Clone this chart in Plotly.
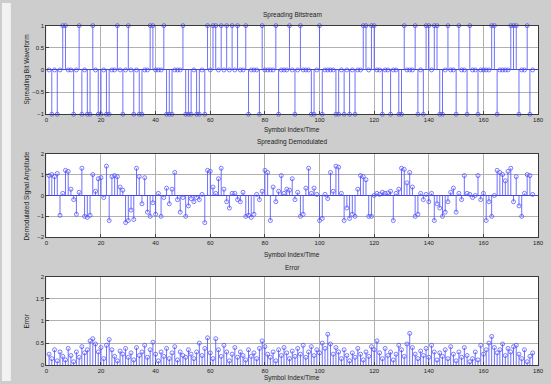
import plotly.graph_objects as go

# ---------------- data ----------------
sample_index = list(range(1, 179))

spread_bits = [
    0, -1, 0, -1, 0, 1, 1, 0, 0, -1,
    0, 1, -1, 0, -1, -1, 1, 0, -1, -1,
    0, -1, -1, 0, 0, 1, 0, -1, 0, 1,
    0, -1, 0, -1, -1, 0, 0, 1, 1, 0,
    0, 0, 1, -1, -1, -1, 0, 0, 0, 1,
    -1, -1, -1, 0, -1, -1, 0, -1, 1, 0,
    1, 1, 0, 1, 0, 1, 0, 1, 0, 1,
    0, 0, 1, -1, 0, 0, 0, -1, 1, 0,
    0, 0, 0, 1, -1, 0, 0, 0, 1, 0,
    -1, 0, 1, 0, 0, 0, -1, -1, 0, 1,
    -1, 0, 0, 0, 0, -1, -1, 0, -1, 0,
    -1, 0, -1, 0, 0, 1, 1, 0, 1, 1,
    0, 0, -1, 0, 0, -1, 0, 0, -1, -1,
    1, 0, 0, 0, 1, -1, 0, -1, 1, 1,
    0, 1, 1, -1, -1, 0, 1, 0, 0, -1,
    1, 0, 0, -1, 1, 0, 0, -1, 0, 0,
    0, 0, 1, 1, -1, 0, 0, 0, 0, 1,
    1, 1, -1, 0, 0, 1, -1, 0,
]

demodulated = [
    0.95, 1.00, 0.90, 1.05, -0.95, 0.10, 1.20, 1.15, 0.30, -0.20,
    -0.90, 0.15, 1.30, -1.00, -1.05, -0.95, 1.00, 0.20, 0.80, 0.85,
    -0.10, 1.40, -1.20, 0.90, 0.95, 0.90, 0.40, 0.25, -1.30, -1.20,
    -0.70, -1.15, 1.30, 0.90, -0.40, 0.85, -0.80, -1.00, -0.35, -0.90,
    0.10, -1.00, -0.10, 0.35, -0.40, 0.30, 1.10, -0.20, -0.80, -0.10,
    -1.00, -0.50, -0.15, -0.30, -0.10, -0.20, 0.05, -1.30, 1.20, 1.15,
    0.40, 0.10, 0.80, 1.30, 0.30, -0.30, -0.60, 0.10, 0.10, -0.20,
    -0.30, 0.15, -1.00, -0.95, -1.05, -0.90, 0.05, -0.20, 0.20, 1.20,
    1.10, -1.20, 0.40, -0.30, 0.20, 0.95, 0.10, 0.30, 0.25, 0.80,
    -0.20, 0.15, -1.00, -0.90, 0.35, 1.30, 0.10, 0.35, 0.05, -1.20,
    -1.10, 0.05, -0.15, 1.10, 0.20, 1.40, 1.35, 0.10, -1.20, -0.60,
    -1.10, -0.90, -1.00, 0.30, 0.95, 0.90, 0.75, -1.00, -1.00, 0.00,
    0.10, 0.05, 0.15, 0.10, 0.12, 0.20, -1.20, 0.10, 0.30, 1.30,
    1.25, 0.60, 1.10, 0.40, -1.00, -0.90, 0.10, -0.20, 0.05, -0.30,
    0.10, -1.20, -0.40, -0.60, -1.00, -0.80, -0.30, 0.15, 0.35, -0.80,
    0.10, -0.20, 0.95, 0.10, 0.05, -0.10, 0.00, 0.95, -0.20, 0.10,
    -1.20, -0.30, -1.00, 0.00, 1.20, 1.10, 1.00, 0.70, 1.15, 1.30,
    -0.30, 0.90, -0.50, -1.00, 0.10, 1.00, 0.95, 0.05,
]

error_mag = [
    0.25, 0.15, 0.35, 0.10, 0.30, 0.20, 0.12, 0.38, 0.22, 0.08,
    0.30, 0.18, 0.42, 0.28, 0.35, 0.55, 0.60, 0.48, 0.30, 0.40,
    0.15, 0.45, 0.58, 0.35, 0.20, 0.10, 0.32, 0.25, 0.38, 0.18,
    0.28, 0.12, 0.40, 0.22, 0.30, 0.45, 0.18, 0.35, 0.52, 0.25,
    0.10, 0.30, 0.20, 0.38, 0.15, 0.28, 0.42, 0.12, 0.30, 0.22,
    0.18, 0.35, 0.25, 0.15, 0.30, 0.50, 0.22, 0.38, 0.62, 0.28,
    0.15, 0.60, 0.35, 0.20, 0.45, 0.30, 0.10, 0.25, 0.40, 0.18,
    0.30, 0.22, 0.12, 0.35, 0.20, 0.28, 0.15, 0.38, 0.55, 0.42,
    0.25, 0.18, 0.30, 0.10, 0.35, 0.22, 0.40, 0.28, 0.15, 0.32,
    0.20, 0.38, 0.25, 0.45, 0.18, 0.30, 0.42, 0.22, 0.35, 0.28,
    0.50, 0.38, 0.70, 0.48, 0.25, 0.40, 0.30, 0.15, 0.35, 0.22,
    0.10, 0.28, 0.18, 0.38, 0.25, 0.12, 0.30, 0.20, 0.42, 0.35,
    0.55, 0.28, 0.15, 0.38, 0.22, 0.30, 0.12, 0.25, 0.45, 0.35,
    0.20, 0.48, 0.72, 0.40, 0.25, 0.15, 0.32, 0.22, 0.38, 0.18,
    0.45, 0.30, 0.12, 0.28, 0.20, 0.35, 0.15, 0.42, 0.25, 0.10,
    0.30, 0.18, 0.40, 0.22, 0.08, 0.15, 0.30, 0.12, 0.45, 0.25,
    0.35, 0.50, 0.65, 0.40, 0.28, 0.35, 0.48, 0.22, 0.38, 0.30,
    0.42, 0.45, 0.25, 0.15, 0.35, 0.08, 0.20, 0.28,
]

x_ticks = [0, 20, 40, 60, 80, 100, 120, 140, 160, 180]
y1_ticks = [-1, -0.5, 0, 0.5, 1]
y2_ticks = [-2, -1, 0, 1, 2]
y3_ticks = [0, 0.5, 1, 1.5, 2]

# ---------------- styling ----------------
W, H = 551, 384
STEM = "rgba(70,70,255,0.78)"
GRID = "#b0b0b0"
FONT = "Liberation Sans"


def px_x(p):
    return p / W


def px_y(p):
    return 1 - p / H


def stem_traces(xs, ys, xa, ya):
    lx, ly = [], []
    for x, y in zip(xs, ys):
        lx += [x, x, None]
        ly += [0, y, None]
    lines = go.Scatter(x=lx, y=ly, mode="lines", xaxis=xa, yaxis=ya,
                       line=dict(color=STEM, width=1), hoverinfo="skip",
                       showlegend=False)
    marks = go.Scatter(x=xs, y=ys, mode="markers", xaxis=xa, yaxis=ya,
                       marker=dict(symbol="circle-open", size=4,
                                   color=STEM, line=dict(width=0.9)),
                       cliponaxis=False, showlegend=False)
    return [lines, marks]


fig = go.Figure()
fig.add_traces(stem_traces(sample_index, spread_bits, "x", "y"))
fig.add_traces(stem_traces(sample_index, demodulated, "x2", "y2"))
fig.add_traces(stem_traces(sample_index, error_mag, "x3", "y3"))

x_dom = [px_x(45), px_x(544)]
boxes = {1: (23, 113), 2: (153, 238), 3: (278, 368)}

common_x = dict(range=[0, 180], tickvals=x_ticks, ticks="inside", ticklen=3,
                showgrid=True, gridcolor=GRID, gridwidth=1, showline=True,
                linecolor="#3a3a3a", linewidth=1, mirror=True, zeroline=False,
                tickfont=dict(size=6, color="#222", family=FONT), domain=x_dom)
common_y = dict(ticks="inside", ticklen=3, showgrid=True, gridcolor=GRID,
                gridwidth=1, showline=True, linecolor="#3a3a3a", linewidth=1,
                mirror=True, tickfont=dict(size=6, color="#222", family=FONT))

layout = dict(width=W, height=H, margin=dict(l=0, r=0, t=0, b=0),
              paper_bgcolor="#cdcdcd", plot_bgcolor="white", showlegend=False)
for i, (ys, ticks, rng, zl) in {
    1: ("y", y1_ticks, [-1, 1], True),
    2: ("y2", y2_ticks, [-2, 2], True),
    3: ("y3", y3_ticks, [0, 2], False),
}.items():
    top, bot = boxes[i]
    xname = "xaxis" if i == 1 else f"xaxis{i}"
    yname = "yaxis" if i == 1 else f"yaxis{i}"
    layout[xname] = dict(common_x, anchor=ys)
    layout[yname] = dict(common_y, range=rng, tickvals=ticks,
                         domain=[px_y(bot), px_y(top)],
                         anchor="x" if i == 1 else f"x{i}",
                         zeroline=zl, zerolinecolor="#4848c8", zerolinewidth=1)
fig.update_layout(**layout)

# light strip along the left edge of the window
fig.add_shape(type="rect", xref="paper", yref="paper", x0=0, x1=px_x(9),
              y0=0, y1=1, fillcolor="#f2f2f2", line_width=0, layer="below")

texts = [
    ("Spreading Bitstream", 294.5, 12, 0),
    ("Symbol Index/Time", 294.5, 129, 0),
    ("Spreading Demodulated", 294.5, 141, 0),
    ("Symbol Index/Time", 294.5, 256, 0),
    ("Error", 294.5, 269, 0),
    ("Symbol Index/Time", 294.5, 381, 0),
    ("Spreading Bit Waveform", 25, 68, -90),
    ("Demodulated Signal Amplitude", 25, 196, -90),
    ("Error", 25, 323, -90),
]
for txt, x, y, ang in texts:
    fig.add_annotation(text=txt, xref="paper", yref="paper", x=px_x(x),
                       y=px_y(y), showarrow=False, textangle=ang,
                       xanchor="center", yanchor="middle",
                       font=dict(size=6.5, color="#222", family=FONT))

fig.write_html("out.html")
